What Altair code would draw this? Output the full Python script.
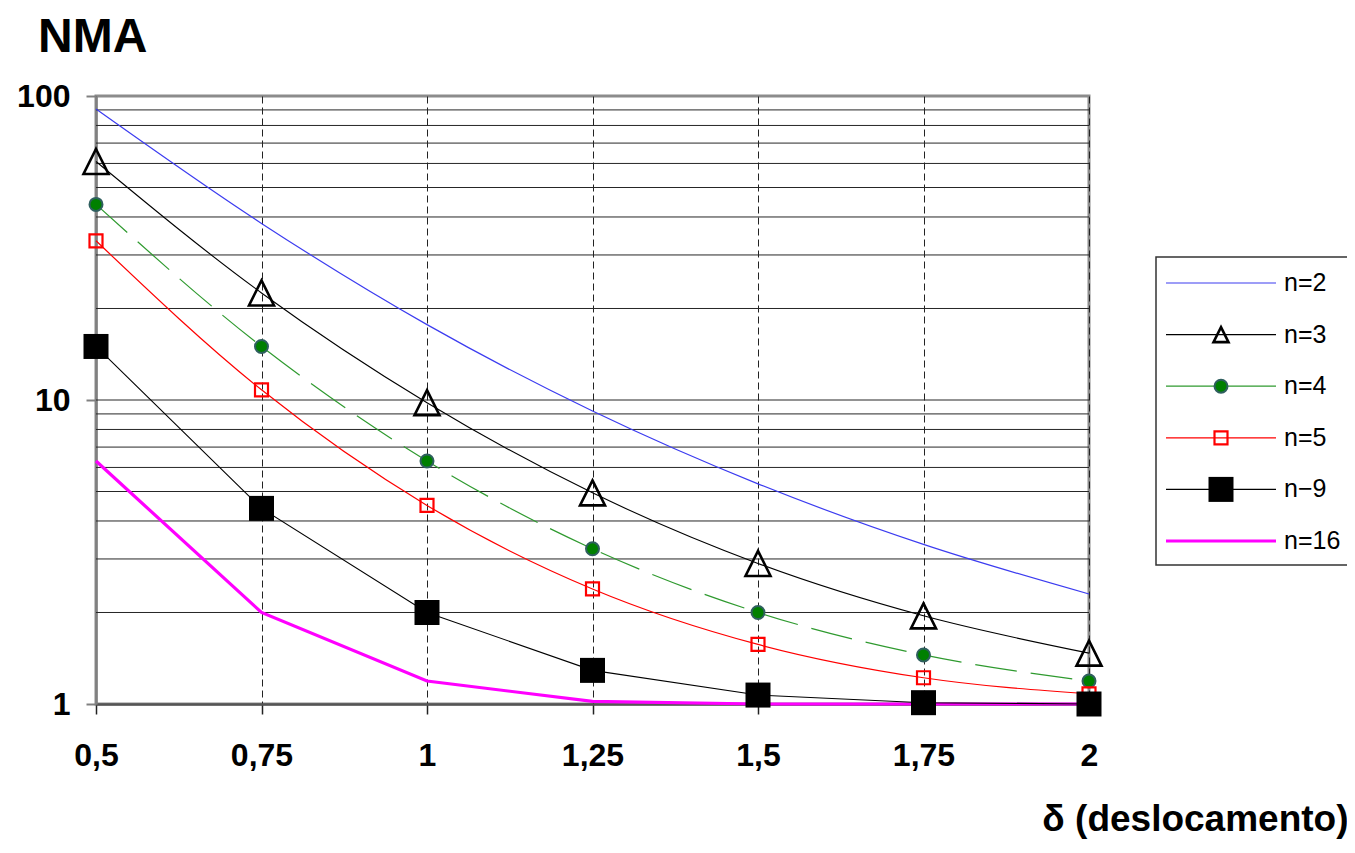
import altair as alt
import pandas as pd

# ---------------- data ----------------
DELTA = [0.5, 0.75, 1.0, 1.25, 1.5, 1.75, 2.0]
X_TICKS = [0.5, 0.75, 1.0, 1.25, 1.5, 1.75, 2.0]
SERIES = ["n=2", "n=3", "n=4", "n=5", "n=9", "n=16"]
LEGEND_LABELS = ["n=2", "n=3", "n=4", "n=5", "n\u22129", "n=16"]
NMA_N2 = [90.6, 38.1, 17.7, 9.2, 5.3, 3.35, 2.3]
NMA_N3 = [60.9, 22.5, 9.8, 4.95, 2.9, 1.95, 1.47]
NMA_N4 = [44.0, 15.0, 6.3, 3.24, 2.0, 1.45, 1.19]
NMA_N5 = [33.4, 10.8, 4.5, 2.39, 1.57, 1.22, 1.08]
NMA_N9 = [15.0, 4.4, 2.0, 1.29, 1.07, 1.01, 1.0]
NMA_N16 = [6.3, 2.0, 1.19, 1.02, 1.0, 1.0, 1.0]
Y_TICKS = [1, 10, 100]
GRID_Y = [2, 3, 4, 5, 6, 7, 8, 9, 10, 20, 30, 40, 50, 60, 70, 80, 90]
TITLE = "NMA"
X_TITLE = "\u03b4 (deslocamento)"

VALUES = [NMA_N2, NMA_N3, NMA_N4, NMA_N5, NMA_N9, NMA_N16]

rows = []
for s, vals in zip(SERIES, VALUES):
    for d, v in zip(DELTA, vals):
        rows.append({"series": s, "delta": d, "nma": v})
df = pd.DataFrame(rows)
grid_df = pd.DataFrame({"g": GRID_Y})
leg_df = pd.DataFrame({"label": LEGEND_LABELS})
one_df = pd.DataFrame({"k": [0]})

# ---------------- styles ----------------
TRI = "M0,-1L1,1L-1,1Z"
STYLE = {
    "n=2": dict(color="#3c3cf0", width=1.2, interp="monotone", dash=None, marker=None),
    "n=3": dict(color="#000000", width=1.1, interp="monotone", dash=None,
                marker=dict(shape=TRI, size=625, filled=False, stroke="#000000", sw=2.6, fill=None),
                lsize=225),
    "n=4": dict(color="#2f9a2f", width=1.2, interp="monotone", dash=[42, 14],
                marker=dict(shape="circle", size=169, filled=True, stroke="#2f5f5f", sw=2, fill="#008000"),
                lsize=169),
    "n=5": dict(color="#ff0000", width=1.2, interp="monotone", dash=None,
                marker=dict(shape="square", size=169, filled=False, stroke="#ff0000", sw=2.2, fill=None),
                lsize=169),
    "n=9": dict(color="#000000", width=1.1, interp="linear", dash=None,
                marker=dict(shape="square", size=625, filled=True, stroke="#000000", sw=0, fill="#000000"),
                lsize=625),
    "n=16": dict(color="#ff00ff", width=3.2, interp="linear", dash=None, marker=None),
}

FONT = "Liberation Sans"

xs = alt.Scale(domain=[0.5, 2.0], nice=False, zero=False)
ys = alt.Scale(type="log", domain=[1, 100], nice=False)

x_axis = alt.Axis(
    values=X_TICKS,
    labelExpr="replace(format(datum.value, '~g'), '.', ',')",
    title=X_TITLE,
    grid=True, gridDash=[7, 4], gridColor="#222222", gridWidth=1,
    domainColor="#555555", domainWidth=2.5,
    tickColor="#222222", tickWidth=1.5, tickSize=10,
    labelFontSize=32, labelFontWeight="bold", labelColor="black",
    labelPadding=26, labelFlush=False, labelOverlap=False,
    titleFontSize=37, titleFontWeight="bold", titleColor="black",
    titleX=1252, titleY=126, titleAlign="right", titleBaseline="alphabetic",
)
y_axis = alt.Axis(
    values=Y_TICKS,
    labelExpr="format(datum.value, '.0f')",
    title=None, grid=False,
    domainColor="#808080", domainWidth=2.5,
    tickColor="#808080", tickWidth=2, tickSize=10,
    labelFontSize=32, labelFontWeight="bold", labelColor="black",
    labelPadding=16, labelFlush=False, labelOverlap=False,
)

X = alt.X("delta:Q", scale=xs, axis=x_axis)
Y = alt.Y("nma:Q", scale=ys, axis=y_axis)

grid = alt.Chart(grid_df).mark_rule(color="#262626", strokeWidth=1).encode(
    y=alt.Y("g:Q", scale=ys, axis=y_axis)
)

line_order = ["n=2", "n=3", "n=4", "n=5", "n=16", "n=9"]
layers = [grid]
for s in line_order:
    st = STYLE[s]
    kw = dict(color=st["color"], strokeWidth=st["width"], interpolate=st["interp"])
    if st["dash"]:
        kw["strokeDash"] = st["dash"]
    layers.append(
        alt.Chart(df).transform_filter(alt.datum.series == s).mark_line(**kw).encode(x=X, y=Y)
    )
for s in SERIES:
    m = STYLE[s]["marker"]
    if not m:
        continue
    kw = dict(shape=m["shape"], size=m["size"], filled=m["filled"], opacity=1,
              stroke=m["stroke"], strokeWidth=m["sw"])
    if m["fill"]:
        kw["fill"] = m["fill"]
    layers.append(
        alt.Chart(df).transform_filter(alt.datum.series == s).mark_point(**kw).encode(x=X, y=Y)
    )
main = alt.layer(*layers)

# ---------------- legend & title ----------------
LY = alt.Y("label:N", scale=alt.Scale(type="point", domain=LEGEND_LABELS, range=[187, 445], padding=0),
           axis=None)
leg_layers = [
    alt.Chart(one_df).mark_rect(fill="white", stroke="#333333", strokeWidth=1.5).encode(
        x=alt.value(1060), x2=alt.value(1300), y=alt.value(161), y2=alt.value(469)
    )
]
for i, s in enumerate(SERIES):
    st = STYLE[s]
    sub = leg_df.iloc[[i]]
    leg_layers.append(
        alt.Chart(sub).mark_rule(color=st["color"], strokeWidth=st["width"]).encode(
            x=alt.value(1070), x2=alt.value(1180), y=LY
        )
    )
    m = st["marker"]
    if m:
        kw = dict(shape=m["shape"], size=st["lsize"], filled=m["filled"], opacity=1,
                  stroke=m["stroke"], strokeWidth=m["sw"])
        if m["fill"]:
            kw["fill"] = m["fill"]
        leg_layers.append(alt.Chart(sub).mark_point(**kw).encode(x=alt.value(1125), y=LY))
leg_layers.append(
    alt.Chart(leg_df).mark_text(align="left", baseline="middle", fontSize=25, font=FONT, color="black").encode(
        x=alt.value(1188), y=LY, text="label:N"
    )
)
leg_layers.append(
    alt.Chart(one_df).mark_text(text=TITLE, align="left", baseline="alphabetic", fontSize=48,
                                fontWeight="bold", font=FONT, color="black").encode(
        x=alt.value(-58), y=alt.value(-44)
    )
)
legend = alt.layer(*leg_layers)

chart = (
    alt.layer(main, legend)
    .resolve_scale(y="independent")
    .properties(
        width=993, height=608,
        padding={"left": 88, "top": 88, "right": 258, "bottom": 138},
        autosize=alt.AutoSizeParams(type="none"),
    )
    .configure(font=FONT)
    .configure_view(stroke="#8c8c8c", strokeWidth=3)
)

chart.save("out.html", embed_options={"renderer": "svg", "actions": False})
